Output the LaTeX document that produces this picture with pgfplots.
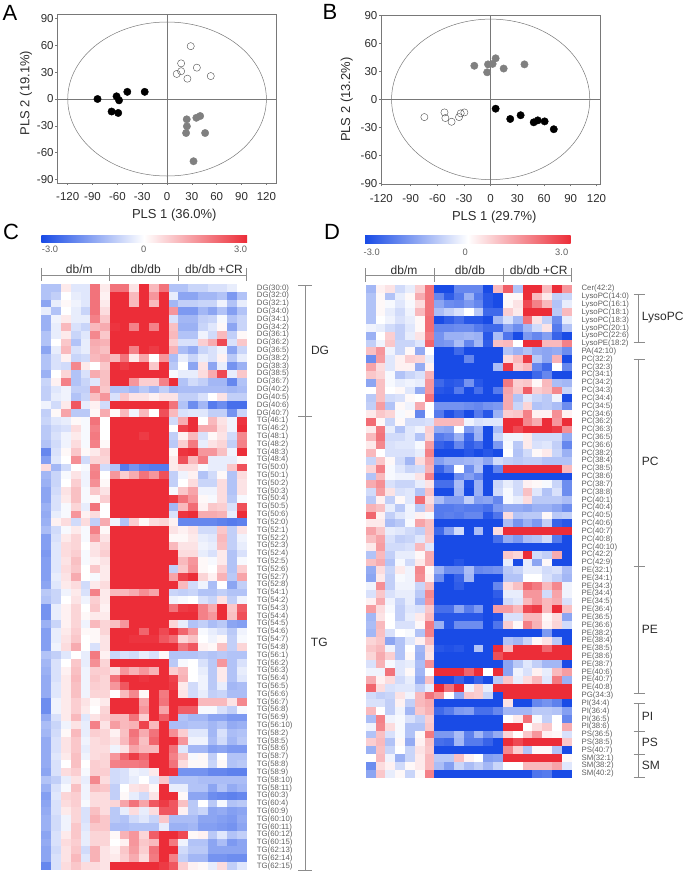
\documentclass[border=0pt]{standalone}
\usepackage{fontspec}
\setmainfont{Liberation Sans}
\usepackage{pgfplots}
\usepackage{pgfplotstable}
\pgfplotsset{compat=1.18}
\definecolor{lblue}{RGB}{25,75,230}
\definecolor{lred}{RGB}{236,45,56}
\definecolor{ptgray}{RGB}{128,128,128}
\definecolor{axgray}{RGB}{120,120,120}
\definecolor{txt}{RGB}{45,45,45}
\definecolor{rowtxt}{RGB}{95,95,95}
\pgfplotsset{
  colormap={bwr}{rgb255=(25,75,230) rgb255=(255,255,255) rgb255=(236,45,56)},
  pls/.style={
    scale only axis, clip=false,
    width=219pt,
    axis line style={axgray,line width=.5pt},
    tick style={axgray,line width=.5pt},
    tick align=outside, tick pos=left, major tick length=2pt,
    ytick={-90,-60,...,90},
    tick label style={font=\fontsize{11.5}{12}\selectfont,text=txt,inner sep=1.5pt},
    xticklabel style={yshift=-6pt},
    /pgf/number format/assume math mode=true,
  },
  heat/.style={
    scale only axis, clip=false, y dir=reverse,
    colormap name=bwr, point meta min=-3, point meta max=3,
    xmin=-.5, xmax=20.5, xtick=\empty,
    axis line style={draw=none}, tick style={draw=none},
    ytick=data, yticklabel pos=right,
    yticklabel style={font=\fontsize{7.8}{8}\selectfont,text=rowtxt,anchor=west,inner sep=0pt,xshift=9.7pt},
  },
}
% filled only, a little oversize so that no seam shows between cells
\pgfdeclareplotmark{cellC}{\pgfpathrectangle{\pgfpoint{-5.05pt}{-4.06pt}}{\pgfpoint{10.1pt}{8.12pt}}\pgfusepathqfill}
\pgfdeclareplotmark{cellD}{\pgfpathrectangle{\pgfpoint{-5.05pt}{-4.06pt}}{\pgfpoint{10.1pt}{8.12pt}}\pgfusepathqfill}

\pgfplotstableread[header=false]{
-1 -1 .3 -.4 -.4 2 .3 2 2 .4 3 1 2 -1 -1 -.7 -.7 -.5 -.5 -.3 0
-1 -.8 0 -.3 -.4 2 .2 3 3 1 3 1.5 3 -.3 -1.5 -1.5 -1.2 -1.2 -1 -1.7 -1
-1.5 -.3 .1 -.2 -.4 2 .3 3 3 1 3 1 3 -1.2 -.8 -.8 -.7 -.7 -.2 -1 -.3
-.3 -1 0 -.3 -.7 2 .5 3 3 3 3 3 3 1.5 -1.7 -1.7 -1.2 -1.5 -1 -1.6 -1
-1.3 -.2 .3 -.3 -.3 1.8 .8 3 3 3 3 3 3 -.5 -1.2 -1.2 -.8 -.7 -.1 -1 -.7
-1.3 -.3 1 -.5 -.7 1 1.2 2.9 3 1.8 3 1.8 3 .9 -1.3 -1.3 -.7 -.4 .1 -1.5 -.7
-1 -.3 .3 -.7 -.4 1.7 .8 3 3 3 3 3 3 1 -1 -1 -.2 -.6 1 -.8 .1
-1 0 .8 -1 -.3 1.2 1.1 3 3 3 3 3 3 .7 -.5 -.5 .7 1.2 2.6 -.5 .8
-1.5 -.3 1 -.5 -.3 1.1 .9 3 3 1.8 3 2.8 3 1.1 -1.1 -1.4 -.7 -.5 -.2 -1.5 -.7
-1 -.5 .2 -.7 -.6 1 1.2 1 2 .3 1.3 0 1.5 -1.1 -.3 -.7 -.3 -.5 .2 -.9 -.3
-1 -.5 -.6 1.7 .3 0 .8 3 2.8 3 3 .8 3 -.9 0 -1.5 .4 -1.5 -.3 -1.8 -1.3
-1.3 0 .6 -1 -.5 1.2 .9 3 3 3 3 3 3 -.1 -.3 -.3 .5 1.2 2.6 -.3 .8
-.7 .2 1.8 -1 -.7 -.4 .9 3 3 1.5 .7 .7 1.8 3 -1 -.6 -.8 -1.2 -1.2 -2 -1
-.8 -.4 -.2 -.8 -.8 1.7 .8 -1 -1 -1.2 -.9 -1.2 -.8 -1.2 -1.1 -1.1 -1.1 -1.1 -1.1 -1.2 -1.1
-.8 -.3 -.2 -1 -.7 .9 1.5 -.5 .8 .4 .4 .2 .4 .4 -.8 -.8 -.5 0 .4 -.8 -.8
-.2 -.6 .3 2.4 -.3 .2 -.6 3 3 3 3 3 3 2 -1 -1.9 -1.2 -2.2 -1.9 -2.4 -2.4
-.8 .1 1.3 -.9 -.9 .1 1.2 .1 1 -.2 1 0 2.5 1 -.5 -.4 -.4 -.8 -.8 -1.8 -.7
-.7 -.4 -.3 .1 -.1 2 0 3 3 3 3 3 3 -.6 1.2 3 0 1 .4 -.2 2.9
-.9 -.6 -.5 .5 -.1 1.8 0 3 3 3 3 3 3 0 2.7 3 1.2 1.2 .5 -.2 3
-.9 -.5 -.2 .3 -.1 1.9 0 3 3 3 2.8 3 3 -.8 .2 1 -.5 .1 .4 -.6 1.7
-1 -.6 -.2 .5 -.1 1.8 .1 3 3 3 3 3 3 -.9 .7 1.9 -.3 .4 .6 -.8 1.8
-2 -.5 .1 .8 .1 .3 .7 3 3 3 3 3 3 .1 2.9 3 1.5 1.5 .9 -.2 3
-1.6 -.4 0 1.6 -.6 .6 .6 3 3 3 3 3 3 .3 2.5 1 1.9 -.3 -.3 -.3 .1
.5 -1.2 -.6 0 -.1 1.7 -.6 -1 -2.2 -1.8 -2.1 -2.2 -2.2 .3 .5 .5 -.1 -.3 -.3 .8 2.5
-1.2 -.7 -.1 .4 -.2 1.8 0 1.5 .7 1.2 2 1.5 2.5 -.8 -.2 .2 -1 -.6 .1 -1 .5
-1.3 -.7 0 .7 -.2 1.6 .1 3 3 3 3 3 3 -.8 0 .5 -.7 -.7 .5 -1 .4
-1.5 -.6 .4 .9 -.1 .8 .4 3 3 3 3 3 3 -.1 .8 1.3 -.2 -.2 .5 -1 .4
-1.5 -.5 .3 .9 -.1 .1 .7 3 3 3 3 3 3 2.8 2 1.5 .1 -.1 .5 -.9 -.1
-1.3 -.5 -.1 .6 -.3 2 0 3 3 3 3 3 3 -1.2 1 2.1 .2 .8 .7 -.5 2.5
-1.4 -.3 -.1 1.5 .2 .5 0 3 3 3 3 3 3 -.5 2.9 3 1.2 1.2 1.1 -.3 3
-1.3 .2 .5 -.6 .5 -.8 1.2 -.2 -1 .7 .1 .5 .6 .2 -2 -2 -2 -2 -2.1 -2.2 -2.1
-1.1 -.6 -.1 .3 -.1 1.8 .1 3 3 3 3 3 3 .4 .2 .4 -.6 -.6 .8 -.8 .4
-1.6 -.5 .3 .6 -.1 1.3 .4 3 3 3 3 3 3 .1 .1 .3 -.3 -.4 1 -.8 -.2
-1.6 -.4 .5 .6 0 .4 .6 3 3 3 3 3 3 1 .4 .4 -.2 -.3 .9 -.8 -.3
-1.7 -.4 .5 .7 -.1 .4 .7 3 3 3 3 3 3 3 .5 .5 -.3 -.5 .3 -1 -.5
-1.6 -.4 .4 .9 -.1 .2 .4 3 3 3 3 3 3 3 1 1.5 .1 -.1 .3 -1 -.1
-1.6 -.4 .5 .8 0 .8 .3 3 3 3 3 3 3 -.8 .8 1.6 .1 0 .7 -1 .7
-1.6 -.3 .4 1.2 0 -.1 .3 3 3 3 3 3 3 1.3 2.7 3 .6 .2 1.1 -.9 1.3
-1.5 -.4 .3 .5 -.6 .3 .5 3 3 3 3 3 3 3 1 -.6 -.2 -1.1 0 -1.5 -.8
-.9 -.7 -.2 .3 -.5 1.8 .3 1 1 1.2 1.6 1.3 3 -.7 -.8 -.7 -1 -1 -.8 -1 -1
-1 -.7 0 .4 -.2 .7 .3 3 3 3 3 3 3 -.2 -.1 0 -.5 -.7 .4 -.8 -.2
-1.8 -.3 .2 .6 0 .8 .2 3 3 3 3 3 3 2 2.8 2.9 1.8 1.2 3 .8 2.3
-1.8 -.3 .2 .6 .1 .3 .3 3 3 3 3 3 3 3 3 3 1.8 1.5 3 .9 2.5
-1.3 -.7 .2 .6 -.2 1 .6 .9 1.5 3 3 3 3 .6 -.3 -1 -.8 -1.1 -.9 -1.5 -1.6
-1.6 -.3 .3 .7 .1 .1 .6 3 3 3 2.2 3 2.6 3 2.2 1.5 -.1 -.3 -.5 -.9 -.2
-1.6 -.3 .4 .8 0 .1 .4 3 3 2.9 2.9 2.9 2.4 2.1 .6 .9 0 -.2 .1 -.8 -.1
-1.6 -.2 .5 1.2 0 -.5 .4 3 3 3 3 3 3 3 2 2.4 .2 .1 .9 -.8 .6
-1 -.8 -.4 0 -.3 1.9 .2 -.7 -.5 -.6 -.3 -.5 .1 -1 -1 -1 -.9 -1 -.9 -1 -1
-1.2 -.5 0 .8 -.3 1.6 .6 3 3 3 3 3 3 -.9 -.1 0 -.5 -.9 1.5 -1 -.5
-1.3 -.5 .2 .9 -.2 .7 .7 .5 1.5 1.1 1.5 1.1 3 .7 1 0 -.3 -.9 .3 -1 -.3
-1.4 -.5 .3 1 -.2 .8 .6 2 3 3 2.9 3 3 2.7 1.1 0 -.2 -.9 .3 -1 -.4
-1.4 -.4 .3 .9 -.2 .7 .6 1.5 2.4 3 3 3 3 2.8 .3 -.6 -.2 -.9 -.3 -1.2 -1.1
-1.4 -.4 .3 .9 -.2 .6 .6 0 1 1.7 .1 3 1.9 3 .4 -.6 -.3 -.8 -.7 -1.1 -1.1
-1.9 -.2 .3 .7 .4 .1 .3 3 3 3 1.3 3 2 3 3 3 1 1 1 .4 1.7
-1.9 -.2 .3 .7 .3 0 .6 3 3 3 1.5 3 1.3 3 2.3 2.3 -.1 -.1 -.5 -.8 -.1
-1.4 -.5 .3 1 -.4 .4 .7 1 1 2 .7 3 2.3 3 -1 -1.2 -1.2 -1.5 -1.5 -1.7 -1.7
-1.1 -.7 -.2 .4 -.3 1.8 .4 1.4 1 1.1 2.7 1 3 -1.1 -1.1 -1 -1 -1.2 -1 -1.4 -1.3
-1.2 -.6 .1 1 -.3 .7 .6 .2 .9 2 1.2 2 3 1.6 .7 -.4 -.4 -1.2 -.5 -1.1 -1
-1.4 -.5 .4 .8 -.2 .5 .6 .4 1 1.8 .9 2.2 3 3 1.5 -.2 -.2 -1.1 -.6 -1.2 -.9
-1.4 -.5 .4 .8 -.3 .5 .5 -.2 .4 1.3 1 1 3 2 -.4 -1.2 -1.2 -1.6 -1.5 -1.7 -1.7
-1.4 -.4 .3 .9 -.2 .5 .6 1.5 2.2 2.8 2.2 3 3 1.8 .9 -.1 .1 -.8 0 -1 -1
-1.4 -.5 0 .9 0 .7 .6 1.8 1.9 1.9 2 3 3 2 .5 .1 .1 -.7 .1 -1 -.9
-1.5 -.5 .5 .7 -.1 .7 .7 -.6 -.5 -.2 -.3 .3 3 2.9 -1.8 -1.8 -1.8 -2 -2 -2.1 -2.1
-1 -.8 -.3 .4 -.3 1.7 .5 -.6 -.5 -.3 0 -.4 .8 -1 -1 -1 -1.1 -1.1 -1.1 -1.1 -1.1
-1.3 -.5 -.1 .9 -.2 .9 .8 -.8 0 .4 .5 .1 3 -.3 -.3 -1 -1 -1.5 -1 -1.4 -1.2
-1.6 -.4 .6 .7 -.2 .5 .5 -.8 .1 -.3 -.6 .4 3 3 .1 -1.5 -1.5 -1.9 -2 -2.1 -2
-1.5 -.5 .5 .7 -.1 .5 .5 .6 1.3 2 1.3 2.4 2.8 2.4 .9 -.9 0 -.9 -.1 -1 -.9
-1.4 -.5 .3 .6 -.5 .9 .5 -.9 -.3 .5 -.3 .5 2.4 2.4 .2 -.9 -.7 -1.5 -1.4 -1.6 -1.5
-1.3 -.6 -.2 .6 -.5 1.1 .8 -.9 -1 -.6 -.4 -.7 .8 -1.1 -1.1 -1.1 -1.5 -1.5 -1.6 -1.7 -1.4
-1.3 -.6 -.2 .8 -.4 .8 .8 -1.1 -1.1 -1 -1 -1 -.3 -1.3 -1.3 -1.2 -1.6 -1.6 -1.7 -1.8 -1.5
-1.5 -.5 .3 .8 -.3 .6 .6 .1 1.1 1.5 .6 2.3 3 3 2.6 .1 .2 -.9 -.4 -1 -.8
-1.4 -.5 .5 .7 -.3 .6 .6 0 .2 1.5 .8 1 3 1.9 -.2 -1 -1 -1.5 -1.1 -1.7 -1.5
-1.5 -.6 .4 .8 -.6 1.1 .4 .2 .8 1.4 .7 2 3 3 -.6 -.9 -.9 -1.5 -1.5 -1.5 -1.5
-1.5 -.5 .4 1 -.4 1.1 .4 .3 .7 1.2 .5 1.9 3 1.8 -.8 -1.2 -1.2 -1.8 -1.8 -1.9 -1.9
-2 -.5 .5 .8 .5 .5 .4 3 3 3 3 3 2.8 2.4 .7 .2 .1 -.3 .5 -.8 -.4
}\tabC

\pgfplotstableread[header=false]{
-1.2 .2 .4 -.6 -.3 .7 2 -3 -3 -2 -2 -2 -3 1 2.3 -1 3 3 1 3 1.5
-1 .1 -1 -.3 .1 1.2 2 -2 -2.7 -2.2 -1.3 -2.2 -2.8 -3 .1 .1 3 1 .3 -.8 -.7
-1 .1 -.1 -.4 -.1 .5 2 -1.5 -1.9 -2 -1.7 -2 -2.8 -3 .1 .4 2.6 1.8 1 -1 -.3
-1 .1 -.3 -.6 -.2 1 2 -1.1 -.8 -.5 0 -.9 -2.5 -2.5 .7 .3 3 3 3 -.9 1
-1 0 -.2 -.5 -.3 .1 2.1 -3 -2.7 -2.4 -2.8 -2.8 -3 -1.2 -.5 -1.2 2 .4 -.8 -1.9 -.3
-.2 -.3 -.6 -.8 -.4 .1 2.1 -2 -2 -1.9 -1.9 -2.2 -2.5 -2.5 -1.5 -1.9 -1.2 -.6 .4 -2.2 -1
-1.3 0 .7 -.8 -.3 .4 1.9 -1.8 -1.3 -1.3 -1.2 -1.3 -2.8 -1.1 -2.3 -3 -1.7 -2 -1.6 -2.6 -3
-.8 -.2 .8 -.7 -.7 -.4 2.2 -1.8 -1.7 -1.1 -2 -1.2 -2.7 .9 1 0 3 3 1 1 1.8
.9 1.5 -.2 -.7 .1 -1.4 0 -3 -3 -2.5 -3 -3 -3 -3 -1 -1.3 -1 -1.4 -1.5 -1.4 -1.9
-1.9 1.4 -.4 .2 .7 .6 -.3 -3 -3 -3 -2 -3 -3 -3 .5 1 2.8 -.9 -1.5 1.1 -3
1.3 .5 -.4 .2 .2 -1.4 .2 -3 -3 -3 -3 -3 -3 -1.1 2.8 .7 1 -2 -2.5 0 -2
.8 .6 -.1 -1 -.7 -.5 1.1 -3 -3 -3 -3 -3 -3 -3 -3 -3 -3 -2.5 -2 -3 -3
-1.5 .9 -.1 -.3 -.2 -.3 1.5 -2.5 -2.8 -2.7 -1.8 -2.8 -3 -3 1.9 .7 .8 .1 1 -1.1 -1.2
0 .9 0 .1 -.4 -1.4 1.5 -2.8 -2.9 -2.2 -3 -2.4 -3 -2.2 1.3 .8 2.3 .7 .9 1.7 -.7
-.9 .9 -.6 -.5 .1 0 2 -3 -3 -3 -3 -3 -3 -3 1.2 -1 -.4 -.7 -.9 -.2 -3
-.8 1.4 -1 .1 -.2 1.2 0 -1.8 -1.8 -1.8 -1.9 -2 -1.8 -1.7 1.2 -.7 .6 -1 -.9 -1.1 -1.9
.3 .8 .6 -.1 .1 -2 0 -2.2 -2.9 -2.5 -3 -2.2 -2.8 -1.3 .7 .8 1.8 .2 .2 1.6 .2
2.1 .1 -.7 .1 -.6 -.6 -.5 1 1 1 -.2 -.5 -.4 -.4 3 3 1.7 1.2 3 1.5 3
.3 1.9 -.3 -1 -.4 -.2 .7 -1.4 -1.5 0 -1.7 -1.2 -3 -1.1 3 2.6 3 3 3 2.8 1.6
1 2 -.6 -.6 -.4 -1 .6 -2.2 -2 -1.3 -2.5 -1.3 -3 -.7 -.2 -.2 .3 -.6 -.6 -.6 -1.4
.3 1.7 -.5 -.4 -.4 -.1 1.4 -2.6 -2.8 -2 -2.7 -2.4 -3 -1.7 -.1 -.9 .3 -.5 -.4 -.8 -2
1 0 -.5 -.5 -.5 -.3 1.8 -3 -3 -3 -2.8 -3 -2.8 -3 0 -1 -.6 .1 .3 -.7 -1.3
-.7 .8 .1 -.6 -1.2 .5 1.3 -1.6 -1.3 -1.3 -1.2 -1.1 -1.5 -.6 -.8 -.9 -.8 -.8 -1 -1 -1
.6 1.8 -.1 -.4 -.7 -.6 1.1 -2.6 -2 0 -1.9 -1 -3 -2 3 3 3 3 3 3 1
-1 1 -.1 -.2 -.2 .4 1.8 -3 -3 -1.9 -1.6 -2 -3 -3 -3 -3 -3 -3 -3 -3 -3
1.2 1.6 -.5 -.7 -.7 -.3 .4 -2.4 -2.4 -1.1 -2.9 -1.3 -3 -.7 -.3 -.6 .2 .1 -.1 -.7 -1.9
-.6 1.4 .4 -.5 -.4 -1 .9 -3 -3 -1.2 -3 -1.3 -3 -.6 -.1 -.6 .9 -.4 -1 -.5 -1.9
-.9 .2 -.8 .1 -.4 2.1 .5 -1.1 -1.6 -1.6 -.8 -1.6 -1.5 -2 -.1 -.3 .5 -.9 -.9 -.9 -1.1
1.1 .9 -.3 -.9 -.2 -.9 .8 -2.2 -2.2 -2.1 -2.2 -2.2 -2.4 -1.7 -1.4 -1.4 -1.5 -1.3 -1.3 -1.5 -1.9
2.2 .2 -.8 -.4 -.2 .2 -.1 -2.2 -2.1 -2.2 -2 -2 -2.8 -2.3 .5 -1 -.9 -.9 .1 -.9 -.8
.3 .3 -1.1 -.9 -.1 1.3 .9 -3 -3 -3 -3 -3 -3 -3 -1.1 -1.8 -1.3 -1.7 -.8 -2.6 -2.8
1.3 .8 -.3 -.4 -.6 -.8 .9 -2.5 -1.6 -.6 -3 -1.1 -3 .5 3 3 3 3 3 3 3
.9 1.3 -.5 -.8 -.7 -.4 .8 -3 -3 -3 -3 -3 -3 -2.4 -1.4 -1.7 -1.1 -1 -.6 -2.2 -3
.3 1.4 -.6 -.6 -.5 1 -.4 -3 -3 -3 -3 -3 -3 -3 -3 -3 -3 -3 -3 -3 -3
-1 1 -.8 -.3 -.3 .1 1.2 -3 -3 -3 -3 -3 -3 -3 .8 .6 3 -.6 -.8 1.2 -3
.9 1.2 -1 -.1 -.6 .3 1.2 -3 -3 -2.8 -3 -3 -3 -3 -.3 -3 -.3 -1.5 .1 -3 -3
-1.4 .5 -.7 .3 -.2 1.7 .1 -1.3 -1.9 -1.9 -1.1 -2 -1.9 -1.8 -.9 -.7 -.3 -.3 -.6 -.5 -1.1
-1.5 .3 -.8 -.1 -.2 1.6 .2 -1.9 -3 -2.6 -1.2 -3 -3 -3 -1 -1 0 0 -.5 -.8 -1.2
-.2 1.6 -.8 -.2 -.2 -.7 1 -3 -3 -2.7 -3 -3 -3 -2 .5 .9 2.2 1.9 1 1.7 -.2
-.5 .8 -.5 -.3 -.3 -.9 1.7 -3 -3 -3 -3 -3 -3 -2.7 -.3 -.3 1.5 1.5 -.6 1.3 -.2
.2 1.2 -.2 -.7 -.3 -1.2 1.5 -3 -3 -3 -3 -3 -3 -2.9 -.6 -.4 1 1.5 1 1.2 -.5
1.4 .5 -.1 -.8 -.4 -.5 .8 -2.4 -2.4 -1.5 -2.2 -1.7 -3 1.4 1.4 1 2.6 2.8 1 3 .9
-1.2 .4 0 -.8 -.3 .3 1 -2.8 -2.8 -2.8 -2.8 -2.8 -3 -2.9 -.5 -.5 1 1 .1 .5 -1.5
-1.1 1 0 -.5 -.5 .1 1.9 -1.3 -2.8 -1.9 -1.9 -1.9 -3 -2.3 .7 .1 1.8 1.1 .2 .6 -.6
-1.2 .9 -.5 0 -.1 -1 1.8 -3 -3 -3 -3 -3 -3 -3 -3 -3 -3 -3 -1.7 -3 -3
.6 .8 -1.5 -1 -.4 .2 1 -3 -3 -3 -3 -3 -3 -3 -1 -1.2 -.7 .1 .4 -.9 -3
.8 1 -.2 -1 0 -1.2 .5 -2.8 -2.9 -2.8 -3 -1 -3 3 1 3 3 3 2.2 3 3
.6 1.2 .7 -1 .1 -1.3 .4 -3 -3 -3 -3 -3 -3 2.5 3 3 3 3 3 3 3
-.5 1.1 -.1 -.4 -.3 -1.1 1.6 -3 -3 -3 -3 -3 -3 -3 -1.5 -.9 -.4 -.8 -1.2 -1.2 -3
-.2 -.2 2 -.4 .1 -1.2 0 3 3 3 2.2 3 0 3 -1.5 -.2 -.5 .2 -.3 1 1.4
1.2 .2 .5 -.6 -.3 -1.4 .9 -3 -3 -2.6 -3 -2.6 -3 -.9 .8 -.3 .5 1 -.4 1.9 -1.3
2.2 .5 -.5 -.4 -.4 -.8 -.3 3 2 3 -.2 .7 -.3 3 3 3 3 3 3 3 3
-.6 -.8 -.7 .4 -.2 1 2 1.5 0 -1.4 .8 .7 -.7 -3 3 3 3 3 3 3 3
-.5 -.5 -.8 .2 -.8 1 1.2 -3 -3 -3 -3 -3 -3 -3 .4 -3 -3 -2 -1.8 -2.1 -3
1 0 -.8 -.2 -1.2 .8 1.1 -2.5 -2.2 -1.7 -1.6 -2.4 -2.4 -2 -1.2 -1.2 -1.2 -.9 -.9 -1 -1.6
-1.1 1.8 -.2 -.1 -.5 -.8 .7 -3 -3 -3 -3 -3 -3 -3 0 .3 2 -.1 -.8 0 -2
-.2 1.7 .5 -.1 -1 -1 .8 -3 -3 -3 -3 -3 -3 -3 3 3 0 .5 .8 0 1.2
-1 .9 -.5 -.1 -1 .1 1.9 -1.7 -1.7 -1.1 -2.1 -1.2 -1.9 -1.4 .6 0 .8 1.5 .2 .1 -.5
.7 1 -1 .1 -1.4 .2 .9 -2.4 -2.5 -1.2 -2.2 -2.2 -2.6 -3 3 2.6 3 3 3 3 .8
-1.3 .9 -.7 0 -.7 .4 .8 -3 -3 -3 -3 -3 -3 -3 1.7 .7 -1 .1 .1 -1 -3
0 1 -.2 -1.3 -.7 .3 1 -.9 -.9 .9 .2 0 -1.6 -1.5 3 3 3 3 3 3 .1
-1.9 .5 .2 -.6 .1 .3 1 -1.1 -1.6 -.7 -1.1 -.8 -1.2 -.7 0 0 1 1 1 1.3 -.4
-1.5 .8 -.3 .1 -.7 .1 1.8 -3 -3 -3 -3 -3 -3 -3 -3 -3 -3 -2.3 -2.2 -3 -3
}\tabD

\begin{document}
\begin{tikzpicture}
\useasboundingbox (0pt,0pt) rectangle (685pt,872pt);

% A
\begin{axis}[pls, at={(57.3pt,689pt)}, anchor=south west, height=168.7pt,
    xmin=-132.6, xmax=132, ymin=-93.8, ymax=94.6,
    xtick={-120,-90,...,120},
    xlabel={PLS 1 (36.0\%)}, ylabel={PLS 2 (19.1\%)},
    every axis x label/.style={at={(axis description cs:0.5,0)},anchor=center,font=\fontsize{13}{14}\selectfont,text=txt,xshift=7.5pt,yshift=-32.5pt},
    every axis y label/.style={at={(axis description cs:0,0.5)},anchor=center,font=\fontsize{13}{14}\selectfont,text=txt,xshift=-31.3pt,yshift=5.6pt,rotate=90}]
  \draw[axgray,line width=.5pt] (axis cs:0,0) ellipse [x radius=120, y radius=86];
  \draw[axgray,line width=.5pt] (axis cs:-132.6,0) -- (axis cs:132,0);
  \draw[axgray,line width=.5pt] (axis cs:0,-93.8) -- (axis cs:0,94.6);
  \addplot[only marks, mark=*, mark size=3.7pt, black] coordinates {(-84,0) (-67,-14) (-61,3) (-58,-1.5) (-59,-15.6) (-48,8) (-27,8)};
  \addplot[only marks, mark=*, mark size=3.7pt, ptgray] coordinates {(23.8,-22.7) (24,-30.5) (23,-38) (35.4,-21) (40,-19) (46,-38) (32,-69.5)};
  \addplot[only marks, mark=o, mark size=3.6pt, black!70, mark options={line width=.4pt}] coordinates {(28.6,59) (17,39.8) (17,31) (11.7,28) (24.6,22.7) (36,35) (52.8,25.6)};
\end{axis}

% B
\begin{axis}[pls, at={(381pt,687.7pt)}, anchor=south west, height=169.3pt,
    xmin=-123.4, xmax=123, ymin=-91, ymax=90.4,
    xtick={-123,-90,-60,-30,0,30,60,90,119},
    xticklabels={-120,-90,-60,-30,0,30,60,90,120},
    xlabel={PLS 1 (29.7\%)}, ylabel={PLS 2 (13.2\%)},
    every axis x label/.style={at={(axis description cs:0.5,0)},anchor=center,font=\fontsize{13}{14}\selectfont,text=txt,xshift=3.8pt,yshift=-33pt},
    every axis y label/.style={at={(axis description cs:0,0.5)},anchor=center,font=\fontsize{13}{14}\selectfont,text=txt,xshift=-34.3pt,rotate=90}]
  \draw[axgray,line width=.5pt] (axis cs:0,0) ellipse [x radius=111.5, y radius=86];
  \draw[axgray,line width=.5pt] (axis cs:-123.4,0) -- (axis cs:123,0);
  \draw[axgray,line width=.5pt] (axis cs:0,-91) -- (axis cs:0,90.4);
  \addplot[only marks, mark=*, mark size=3.7pt, black] coordinates {(5.6,-10) (22,-21) (33.7,-17) (48.4,-24.6) (53,-22.5) (60.7,-23.6) (71,-32)};
  \addplot[only marks, mark=*, mark size=3.7pt, ptgray] coordinates {(-18.4,36) (-4,29) (-3,37.5) (2.2,38) (5.6,44) (14.6,33) (38,37.5)};
  \addplot[only marks, mark=o, mark size=3.6pt, black!70, mark options={line width=.4pt}] coordinates {(-74.6,-19) (-52,-14) (-51,-20) (-44,-24) (-35.6,-19) (-33.7,-15) (-29.6,-14)};
\end{axis}

% C
\begin{axis}[heat, at={(41.6pt,2pt)}, anchor=south west, width=205.4pt, height=585.9pt,
    ymin=-.5, ymax=74.5, ytick={0,...,74},
    yticklabels={DG(30:0),DG(32:0),DG(32:1),DG(34:0),DG(34:1),DG(34:2),DG(36:1),DG(36:2),DG(36:5),DG(38:2),DG(38:3),DG(38:5),DG(36:7),DG(40:2),DG(40:5),DG(40:6),DG(40:7),
      TG(46:1),TG(46:2),TG(48:1),TG(48:2),TG(48:3),TG(48:4),TG(50:0),TG(50:1),TG(50:2),TG(50:3),TG(50:4),TG(50:5),TG(50:6),
      TG(52:0),TG(52:1),TG(52:2),TG(52:3),TG(52:4),TG(52:5),TG(52:6),TG(52:7),TG(52:8),TG(54:1),TG(54:2),TG(54:3),TG(54:4),TG(54:5),TG(54:6),TG(54:7),TG(54:8),
      TG(56:1),TG(56:2),TG(56:3),TG(56:4),TG(56:5),TG(56:6),TG(56:7),TG(56:8),TG(56:9),TG(56:10),TG(58:2),TG(58:5),TG(58:6),TG(58:7),TG(58:8),TG(58:9),TG(58:10),TG(58:11),
      TG(60:3),TG(60:4),TG(60:9),TG(60:10),TG(60:11),TG(60:12),TG(60:15),TG(62:13),TG(62:14),TG(62:15)}]
  \pgfplotsinvokeforeach{0,...,20}{
    \addplot[scatter, only marks, mark=cellC, scatter src=explicit]
      table[x expr=#1, y expr=\coordindex, meta index=#1]{\tabC};
  }
\end{axis}

% D
\begin{axis}[heat, at={(366pt,94.3pt)}, anchor=south west, width=205.7pt, height=492.7pt,
    ymin=-.5, ymax=62.5, ytick={0,...,62},
    yticklabels={Cer(42:2),LysoPC(14:0),LysoPC(16:1),LysoPC(18:1),LysoPC(18:3),LysoPC(20:1),LysoPC(22:6),LysoPE(18:2),PA(42:10),
      PC(32:2),PC(32:3),PC(34:1),PC(34:2),PC(34:3),PC(34:4),PC(34:5),PC(34:6),PC(36:2),PC(36:3),PC(36:5),PC(36:6),PC(38:2),PC(38:4),PC(38:5),PC(38:6),PC(38:7),PC(38:8),PC(40:1),PC(40:4),PC(40:5),PC(40:6),PC(40:7),PC(40:8),PC(40:10),PC(42:2),PC(42:9),
      PE(32:1),PE(34:1),PE(34:3),PE(34:4),PE(34:5),PE(36:4),PE(36:5),PE(36:6),PE(38:2),PE(38:4),PE(38:5),PE(38:6),PE(38:7),PE(40:6),PE(40:7),PE(40:8),PG(34:3),
      PI(34:4),PI(36:4),PI(36:5),PI(38:6),PS(36:5),PS(38:5),PS(40:7),SM(32:1),SM(38:2),SM(40:2)}]
  \pgfplotsinvokeforeach{0,...,20}{
    \addplot[scatter, only marks, mark=cellD, scatter src=explicit]
      table[x expr=#1, y expr=\coordindex, meta index=#1]{\tabD};
  }
\end{axis}

% annotations, in pixels of the reference measured from its top left
\begin{scope}[x=1pt,y=-1pt,shift={(0pt,872pt)}]
  \tikzset{
    letter/.style={font=\fontsize{22}{24}\selectfont,text=black,inner sep=0pt},
    bar/.style={font=\fontsize{9.3}{10}\selectfont,text=rowtxt,inner sep=0pt},
    grp/.style={font=\fontsize{12}{13}\selectfont,text=txt,inner sep=0pt},
    brk/.style={black!45,line width=.6pt},
  }
  \node[letter] at (10,13) {A};
  \node[letter] at (330,12) {B};
  \node[letter] at (11,232) {C};
  \node[letter] at (332,232) {D};

  % colour bars
  \shade[left color=lblue,right color=white] (41.3,235.7) rectangle (144,242.7);
  \shade[left color=white,right color=lred] (144,235.7) rectangle (247,242.7);
  \node[bar] at (50,249.7) {-3.0};
  \node[bar] at (143.7,249.7) {0};
  \node[bar] at (240.7,249.7) {3.0};
  \shade[left color=lblue,right color=white] (365,236) rectangle (467.8,243.3);
  \shade[left color=white,right color=lred] (467.8,236) rectangle (570.7,243.3);
  \node[bar] at (371.7,252.7) {-3.0};
  \node[bar] at (465.3,252.7) {0};
  \node[bar] at (561.7,252.7) {3.0};

  % group heads
  \draw[brk] (41.3,275) -- (246.7,275);
  \foreach \x in {41.3,109.7,178.7,246.7} \draw[brk] (\x,268) -- (\x,280.7);
  \node[grp] at (79.3,269) {db/m};
  \node[grp] at (145.7,269) {db/db};
  \node[grp] at (214,269) {db/db +CR};
  \draw[brk] (365.7,275.5) -- (571.3,275.5);
  \foreach \x in {365.7,434.7,503.3,571.3} \draw[brk] (\x,268.3) -- (\x,281.7);
  \node[grp] at (404,270.7) {db/m};
  \node[grp] at (470,270.7) {db/db};
  \node[grp] at (538.7,270.7) {db/db +CR};

  % class brackets, C
  \draw[brk] (305.7,285.7) -- (305.7,870.7);
  \foreach \y in {285.7,416.7,870.7} \draw[brk] (298.3,\y) -- (311.7,\y);
  \node[grp] at (320,350) {DG};
  \node[grp] at (319.3,642) {TG};

  % class brackets, D
  \draw[brk] (638.7,294) -- (638.7,342);
  \draw[brk] (638.7,359) -- (638.7,693.3);
  \draw[brk] (638.7,703.3) -- (638.7,777.7);
  \foreach \y in {294,342,359,566,693.3,703.3,731.3,754.7,777.7} \draw[brk] (633.7,\y) -- (644.7,\y);
  \node[grp,anchor=west] at (641.7,317.3) {LysoPC};
  \node[grp,anchor=west] at (641.7,461.3) {PC};
  \node[grp,anchor=west] at (641.7,629) {PE};
  \node[grp,anchor=west] at (641.7,716.3) {PI};
  \node[grp,anchor=west] at (641.7,742) {PS};
  \node[grp,anchor=west] at (641.7,765) {SM};
\end{scope}
\end{tikzpicture}
\end{document}
